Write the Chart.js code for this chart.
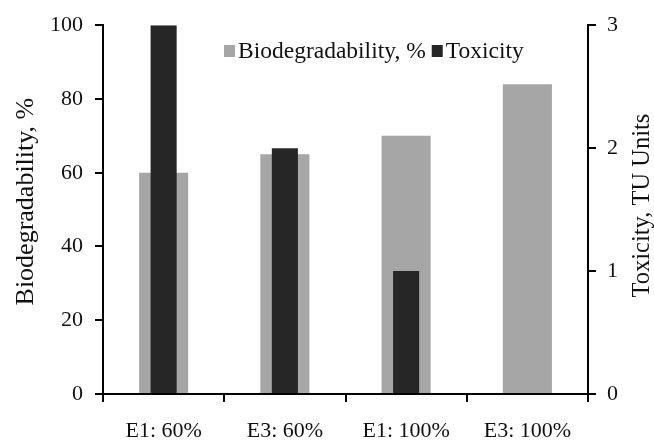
<!DOCTYPE html>
<html>
<head>
<meta charset="utf-8">
<script src="https://cdn.jsdelivr.net/npm/chart.js@4/dist/chart.umd.min.js"></script>
<style>
  html, body { margin: 0; padding: 0; background: #fff; }
  #wrap { width: 654px; height: 444px; position: relative; }
</style>
</head>
<body>
<div id="wrap"><canvas id="c" width="654" height="444"></canvas></div>
<script>
const categories = ['E1: 60%', 'E3: 60%', 'E1: 100%', 'E3: 100%'];
const biodegradability = [60, 65, 70, 84];
const toxicity = [3, 2, 1, 0];

const leftTitle = 'Biodegradability, %';
const rightTitle = 'Toxicity, TU Units';
const bioLabel = 'Biodegradability, %';
const toxLabel = 'Toxicity';

const GREY = '#a6a6a6';
const DARK = '#262626';
const FONT = '"Liberation Serif", "Times New Roman", serif';
const INK = '#111111';

// Axis titles (both read bottom-to-top) and the in-plot legend
const decorations = {
  id: 'decorations',
  afterDraw(chart) {
    const ctx = chart.ctx;
    const area = chart.chartArea;
    const midY = (area.top + area.bottom) / 2;
    ctx.save();
    ctx.fillStyle = INK;
    ctx.textAlign = 'center';
    ctx.textBaseline = 'middle';
    [[26, midY - 8, 26, leftTitle], [643, midY - 4, 24.5, rightTitle]].forEach(([x, y, size, text]) => {
      ctx.save();
      ctx.font = size + 'px ' + FONT;
      ctx.translate(x, y);
      ctx.rotate(-Math.PI / 2);
      ctx.fillText(text, 0, 0);
      ctx.restore();
    });

    // legend
    ctx.font = '23.5px ' + FONT;
    ctx.textAlign = 'left';
    ctx.textBaseline = 'alphabetic';
    const ds = chart.data.datasets;
    const items = [ds[1], ds[0]];
    let x = 224;
    const base = 58;
    items.forEach((d) => {
      ctx.fillStyle = d.backgroundColor;
      ctx.fillRect(x, base - 13, 11, 12);
      x += 14;
      ctx.fillStyle = INK;
      ctx.fillText(d.label, x, base);
      x += ctx.measureText(d.label).width + 6;
    });
    ctx.restore();
  }
};

new Chart(document.getElementById('c'), {
  type: 'bar',
  data: {
    labels: categories,
    datasets: [
      {
        label: toxLabel,
        data: toxicity,
        yAxisID: 'yRight',
        backgroundColor: DARK,
        grouped: false,
        categoryPercentage: 1,
        barPercentage: 0.215,
        order: 0
      },
      {
        label: bioLabel,
        data: biodegradability,
        yAxisID: 'yLeft',
        backgroundColor: GREY,
        grouped: false,
        categoryPercentage: 1,
        barPercentage: 0.405,
        order: 1
      }
    ]
  },
  options: {
    responsive: false,
    animation: false,
    events: [],
    layout: { padding: { top: 23, left: 0, right: 0, bottom: 0 } },
    plugins: {
      legend: { display: false },
      tooltip: { enabled: false },
      title: { display: false }
    },
    scales: {
      x: {
        offset: true,
        grid: {
          offset: true,
          drawOnChartArea: false,
          drawTicks: true,
          tickLength: 8,
          color: '#000',
          lineWidth: 2
        },
        border: { display: true, color: '#000', width: 2 },
        ticks: {
          color: INK,
          font: { family: FONT, size: 22 },
          padding: 16,
          maxRotation: 0
        },
        afterFit(scale) { scale.height = 50; }
      },
      yLeft: {
        position: 'left',
        min: 0,
        max: 100,
        ticks: {
          stepSize: 20,
          color: INK,
          font: { family: FONT, size: 22 },
          padding: 12
        },
        grid: {
          drawOnChartArea: false,
          tickLength: 8,
          color: '#000',
          lineWidth: 2
        },
        border: { display: true, color: '#000', width: 2 },
        afterFit(scale) { scale.width = 103; }
      },
      yRight: {
        position: 'right',
        min: 0,
        max: 3,
        ticks: {
          stepSize: 1,
          color: INK,
          font: { family: FONT, size: 22 },
          padding: 11
        },
        grid: {
          drawOnChartArea: false,
          tickLength: 8,
          color: '#000',
          lineWidth: 2
        },
        border: { display: true, color: '#000', width: 2 },
        afterFit(scale) { scale.width = 66; }
      }
    }
  },
  plugins: [decorations]
});
</script>
</body>
</html>
